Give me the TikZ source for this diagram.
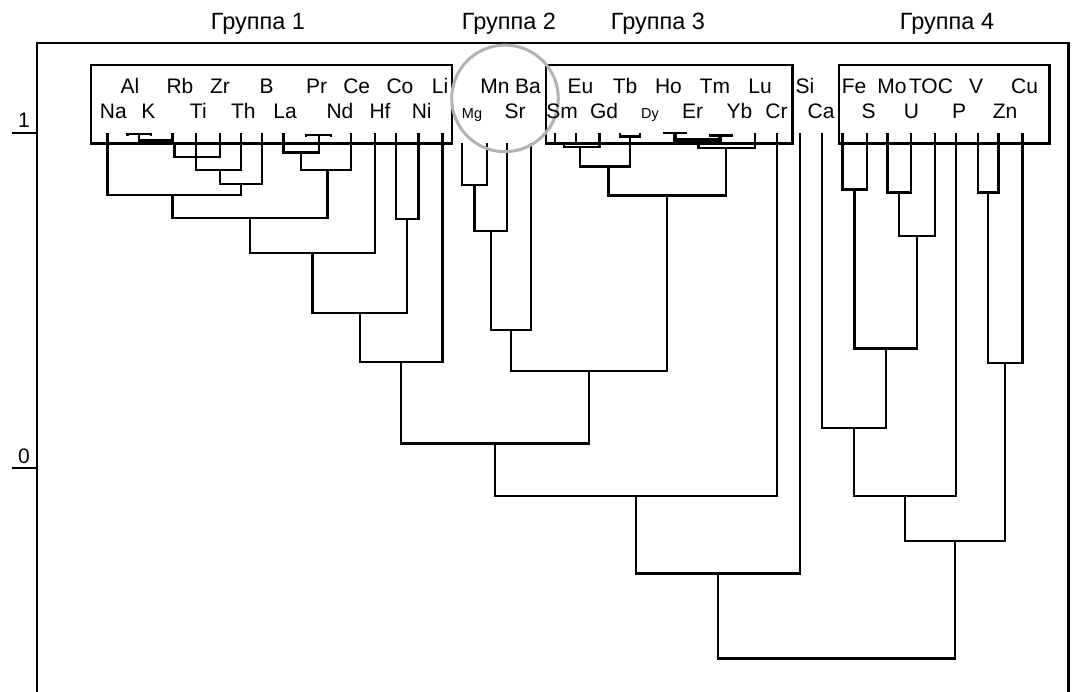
\documentclass[tikz,border=0pt]{standalone}
\usepackage{fontspec}
\setmainfont{Liberation Sans}
\begin{document}
\begin{tikzpicture}[x=1pt,y=-1pt,
  tree/.style={line width=2.4pt, line join=miter},
  frame/.style={line width=2.4pt},
  groupbox/.style={line width=2.8pt},
  top/.style={anchor=base, inner sep=0pt, font=\fontsize{21}{24}\selectfont},
  bot/.style={anchor=base, inner sep=0pt, font=\fontsize{21}{24}\selectfont},
  small/.style={anchor=base, inner sep=0pt, font=\fontsize{14.5}{16}\selectfont},
  grp/.style={anchor=base, inner sep=0pt, font=\fontsize{23.5}{26}\selectfont},
  axis/.style={anchor=base, inner sep=0pt, font=\fontsize{21}{24}\selectfont}]
\useasboundingbox (0,0) rectangle (1078,692);

% outer frame and scale
\draw[frame] (37,692) -- (37,43) -- (1068.5,43) -- (1068.5,692);
\coordinate (ax1a) at (11.7,133.3); \coordinate (ax1b) at (37,133.3);
\coordinate (ax0a) at (11.7,468);   \coordinate (ax0b) at (37,468);
\draw[frame] (ax1a) -- (ax1b);
\draw[frame] (ax0a) -- (ax0b);
\node[axis] (a1) at (24,128) {1};
\node[axis] (a0) at (24,463) {0};

% group titles
\node[grp] (g1) at (258,30) {Группа 1};
\node[grp] (g2) at (509,30) {Группа 2};
\node[grp] (g3) at (658,30) {Группа 3};
\node[grp] (g4) at (947,30) {Группа 4};

% leaf tops
\coordinate (e-Na) at (107.3,133.3);
\coordinate (e-Al) at (127.3,136);
\coordinate (e-K)  at (150.7,136);
\coordinate (e-Rb) at (172.3,133.3);
\coordinate (e-Ti) at (195.7,133.3);
\coordinate (e-Zr) at (220,133.3);
\coordinate (e-Th) at (240.7,133.3);
\coordinate (e-B)  at (261.7,133.3);
\coordinate (e-La) at (283.3,133.3);
\coordinate (e-Pr) at (306,137.5);
\coordinate (e-Ce) at (331,137.5);
\coordinate (e-Nd) at (351,133.3);
\coordinate (e-Hf) at (375,133.3);
\coordinate (e-Co) at (396,133.3);
\coordinate (e-Ni) at (418.3,133.3);
\coordinate (e-Li) at (442.3,133.3);
\coordinate (e-Mg) at (462,142.7);
\coordinate (e-Mn) at (486.7,142.7);
\coordinate (e-Sr) at (506.7,142.7);
\coordinate (e-Ba) at (530.7,142.7);
\coordinate (e-Sm) at (555,133.3);
\coordinate (e-Eu) at (575.7,133.3);
\coordinate (e-Gd) at (599.3,133.3);
\coordinate (e-Tb) at (620,133.3);
\coordinate (e-Dy) at (640,133.3);
\coordinate (e-Ho) at (663.3,133.3);
\coordinate (e-Er) at (686.7,133.3);
\coordinate (e-Tm) at (710,137.5);
\coordinate (e-Yb) at (731.7,137.5);
\coordinate (e-Lu) at (755,133.3);
\coordinate (e-Cr) at (776.7,133.3);
\coordinate (e-Si) at (800,133.3);
\coordinate (e-Ca) at (821.7,133.3);
\coordinate (e-Fe) at (842.3,133.3);
\coordinate (e-S)  at (866.7,133.3);
\coordinate (e-Mo) at (887.3,133.3);
\coordinate (e-U)  at (910.7,133.3);
\coordinate (e-TOC) at (935,133.3);
\coordinate (e-P)  at (955.7,133.3);
\coordinate (e-V)  at (977.7,133.3);
\coordinate (e-Zn) at (998.3,133.3);
\coordinate (e-Cu) at (1022.3,133.3);

% merge points (top of each stem)
\coordinate (AK)   at (138.7,134);
\coordinate (AKR)  at (156.3,140.7);
\coordinate (AKRs) at (156.3,144);
\coordinate (AKRb) at (174.3,144);
\coordinate (P1)   at (195.7,157.3);
\coordinate (P2)   at (220,170);
\coordinate (P3)   at (240.7,184);
\coordinate (P4)   at (172.3,195);
\coordinate (PrCe) at (319,135);
\coordinate (Q1)   at (301,152.7);
\coordinate (Q2)   at (327.3,170);
\coordinate (Q3)   at (249.8,218.3);
\coordinate (Q4)   at (312.4,253);
\coordinate (CoNi) at (407.2,219.3);
\coordinate (Q5)   at (360,313.3);
\coordinate (Q6)   at (401,361.7);
\coordinate (MgMn) at (474.3,185);
\coordinate (R1)   at (491,231);
\coordinate (R2)   at (510.7,330);
\coordinate (SmEu) at (564,144);
\coordinate (S1)   at (580,147.3);
\coordinate (TbDy) at (630,136.7);
\coordinate (S2)   at (608.3,166.7);
\coordinate (HoEr) at (675,133.3);
\coordinate (TmYb) at (720,135.7);
\coordinate (S3)   at (698.3,140);
\coordinate (S4)   at (725.7,148.3);
\coordinate (S5)   at (666.7,195.7);
\coordinate (T1)   at (588.7,371);
\coordinate (T2)   at (495,443.3);
\coordinate (T3)   at (636,495.7);
\coordinate (T4)   at (718,573.3);
\coordinate (FeS)  at (854.5,189.5);
\coordinate (MoU)  at (899,192.5);
\coordinate (U1)   at (917,236);
\coordinate (U2)   at (885.7,348.6);
\coordinate (U3)   at (853.7,428.2);
\coordinate (U4)   at (904.7,496);
\coordinate (VZn)  at (988,192.5);
\coordinate (U5)   at (1005,362.9);
\coordinate (U6)   at (955,540.7);
\coordinate (Root) at (836.5,658.6);

% group 1
\draw[tree] (e-Al) |- (AK) -| (e-K);
\draw[tree] (AK) |- (AKR) -| (e-Rb);
\draw[tree] (AKR) -- (AKRs);
\draw[tree] (AKRb) |- (P1) -| (e-Zr);
\draw[tree] (e-Ti) -- (P1);
\draw[tree] (P1) |- (P2) -| (e-Th);
\draw[tree] (P2) |- (P3) -| (e-B);
\draw[tree] (e-Na) |- (P4) -| (P3);
\draw[tree] (e-Pr) |- (PrCe) -| (e-Ce);
\draw[tree] (e-La) |- (Q1) -| (PrCe);
\draw[tree] (Q1) |- (Q2) -| (e-Nd);
\draw[tree] (P4) |- (Q3) -| (Q2);
\draw[tree] (Q3) |- (Q4) -| (e-Hf);
\draw[tree] (e-Co) |- (CoNi) -| (e-Ni);
\draw[tree] (Q4) |- (Q5) -| (CoNi);
\draw[tree] (Q5) |- (Q6) -| (e-Li);

% group 2
\draw[tree] (e-Mg) |- (MgMn) -| (e-Mn);
\draw[tree] (MgMn) |- (R1) -| (e-Sr);
\draw[tree] (R1) |- (R2) -| (e-Ba);

% group 3
\draw[tree] (e-Sm) |- (SmEu) -| (e-Eu);
\draw[tree] (SmEu) |- (S1) -| (e-Gd);
\draw[tree] (e-Tb) |- (TbDy) -| (e-Dy);
\draw[tree] (S1) |- (S2) -| (TbDy);
\draw[tree] (e-Ho) |- (HoEr) -| (e-Er);
\draw[tree] (e-Tm) |- (TmYb) -| (e-Yb);
\draw[tree, line width=3.2pt] (HoEr) |- (S3) -| (TmYb);
\draw[tree] (S3) |- (S4) -| (e-Lu);
\draw[tree] (S2) |- (S5) -| (S4);

% joining groups 1-3, Cr and Si
\draw[tree] (R2) |- (T1) -| (S5);
\draw[tree] (Q6) |- (T2) -| (T1);
\draw[tree] (T2) |- (T3) -| (e-Cr);
\draw[tree] (T3) |- (T4) -| (e-Si);

% group 4
\draw[tree] (e-Fe) |- (FeS) -| (e-S);
\draw[tree] (e-Mo) |- (MoU) -| (e-U);
\draw[tree] (MoU) |- (U1) -| (e-TOC);
\draw[tree] (FeS) |- (U2) -| (U1);
\draw[tree] (e-Ca) |- (U3) -| (U2);
\draw[tree] (U3) |- (U4) -| (e-P);
\draw[tree] (e-V) |- (VZn) -| (e-Zn);
\draw[tree] (VZn) |- (U5) -| (e-Cu);
\draw[tree] (U4) |- (U6) -| (U5);
\draw[tree] (T4) |- (Root) -| (U6);

% group boxes
\draw[groupbox] (91,65) rectangle (452,143.5);
\draw[groupbox] (546,65) rectangle (792.7,143.5);
\draw[groupbox] (839,65) rectangle (1049.5,143.5);

% highlight circle
\draw[line width=3pt, black!30] (505,98.4) circle[radius=53.3];

% element labels, upper row
\node[top] (t-Al) at (130,94) {Al};
\node[top] (t-Rb) at (180,94) {Rb};
\node[top] (t-Zr) at (220,94) {Zr};
\node[top] (t-B)  at (266.7,94) {B};
\node[top] (t-Pr) at (316.7,94) {Pr};
\node[top] (t-Ce) at (356.7,94) {Ce};
\node[top] (t-Co) at (400,94) {Co};
\node[top] (t-Li) at (440,94) {Li};
\node[top] (t-Mn) at (495,94) {Mn};
\node[top] (t-Ba) at (528,94) {Ba};
\node[top] (t-Eu) at (580.5,94) {Eu};
\node[top] (t-Tb) at (625,94) {Tb};
\node[top] (t-Ho) at (668.5,94) {Ho};
\node[top] (t-Tm) at (715,94) {Tm};
\node[top] (t-Lu) at (760,94) {Lu};
\node[top] (t-Si) at (805,94) {Si};
\node[top] (t-Fe) at (854,94) {Fe};
\node[top] (t-Mo) at (892,94) {Mo};
\node[top] (t-TOC) at (931,94) {TOC};
\node[top] (t-V)  at (976,94) {V};
\node[top] (t-Cu) at (1024.5,94) {Cu};

% element labels, lower row
\node[bot] (t-Na) at (113.3,119) {Na};
\node[bot] (t-K)  at (148.3,119) {K};
\node[bot] (t-Ti) at (198.3,119) {Ti};
\node[bot] (t-Th) at (243.3,119) {Th};
\node[bot] (t-La) at (285,119) {La};
\node[bot] (t-Nd) at (340,119) {Nd};
\node[bot] (t-Hf) at (380,119) {Hf};
\node[bot] (t-Ni) at (421.7,119) {Ni};
\node[bot] (t-Sr) at (515,119) {Sr};
\node[bot] (t-Sm) at (562,119) {Sm};
\node[bot] (t-Gd) at (604,119) {Gd};
\node[bot] (t-Er) at (692.5,119) {Er};
\node[bot] (t-Yb) at (739.5,119) {Yb};
\node[bot] (t-Cr) at (776.5,119) {Cr};
\node[bot] (t-Ca) at (821,119) {Ca};
\node[bot] (t-S)  at (868.5,119) {S};
\node[bot] (t-U)  at (911.5,119) {U};
\node[bot] (t-P)  at (959,119) {P};
\node[bot] (t-Zn) at (1005,119) {Zn};
\node[small] (t-Mg) at (472,119) {Mg};
\node[small] (t-Dy) at (650,119) {Dy};
\end{tikzpicture}
\end{document}
